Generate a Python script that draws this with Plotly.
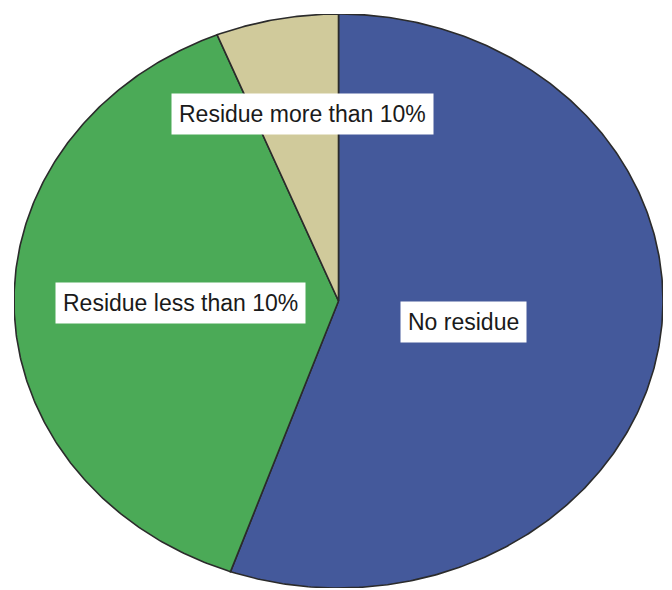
import numpy as np
import plotly.graph_objects as go

categories = ["No residue", "Residue less than 10%", "Residue more than 10%"]
values = [55.4, 38.5, 6.1]
colors = ["#44599B", "#4BAA57", "#D0CA9B"]
label_pos = [(0.693, 0.463), (0.257, 0.497), (0.444, 0.826)]

fig = go.Figure()
total = sum(values)
start = 0.0
for cat, val, col in zip(categories, values, colors):
    end = start + val / total
    t = np.linspace(start, end, max(int((end - start) * 720), 4)) * 2 * np.pi
    xs = np.concatenate([[0], np.sin(t), [0]])
    ys = np.concatenate([[0], np.cos(t), [0]])
    fig.add_trace(go.Scatter(x=xs, y=ys, mode="lines", fill="toself", fillcolor=col,
                             line=dict(color="#2b2b2b", width=1.6), name=cat,
                             hoverinfo="name", showlegend=False))
    start = end

for cat, (px, py) in zip(categories, label_pos):
    fig.add_annotation(x=px, y=py, xref="paper", yref="paper", text=cat, showarrow=False,
                       font=dict(family="Liberation Sans, Arial", size=23, color="#1a1a1a"),
                       bgcolor="white", borderpad=7, xanchor="center", yanchor="middle")

fig.update_xaxes(range=[-1, 1], visible=False)
fig.update_yaxes(range=[-1, 1], visible=False)
fig.update_layout(width=672, height=590, margin=dict(l=14, r=9, t=14, b=2),
                  paper_bgcolor="white", plot_bgcolor="white")
fig.write_html("out.html")
